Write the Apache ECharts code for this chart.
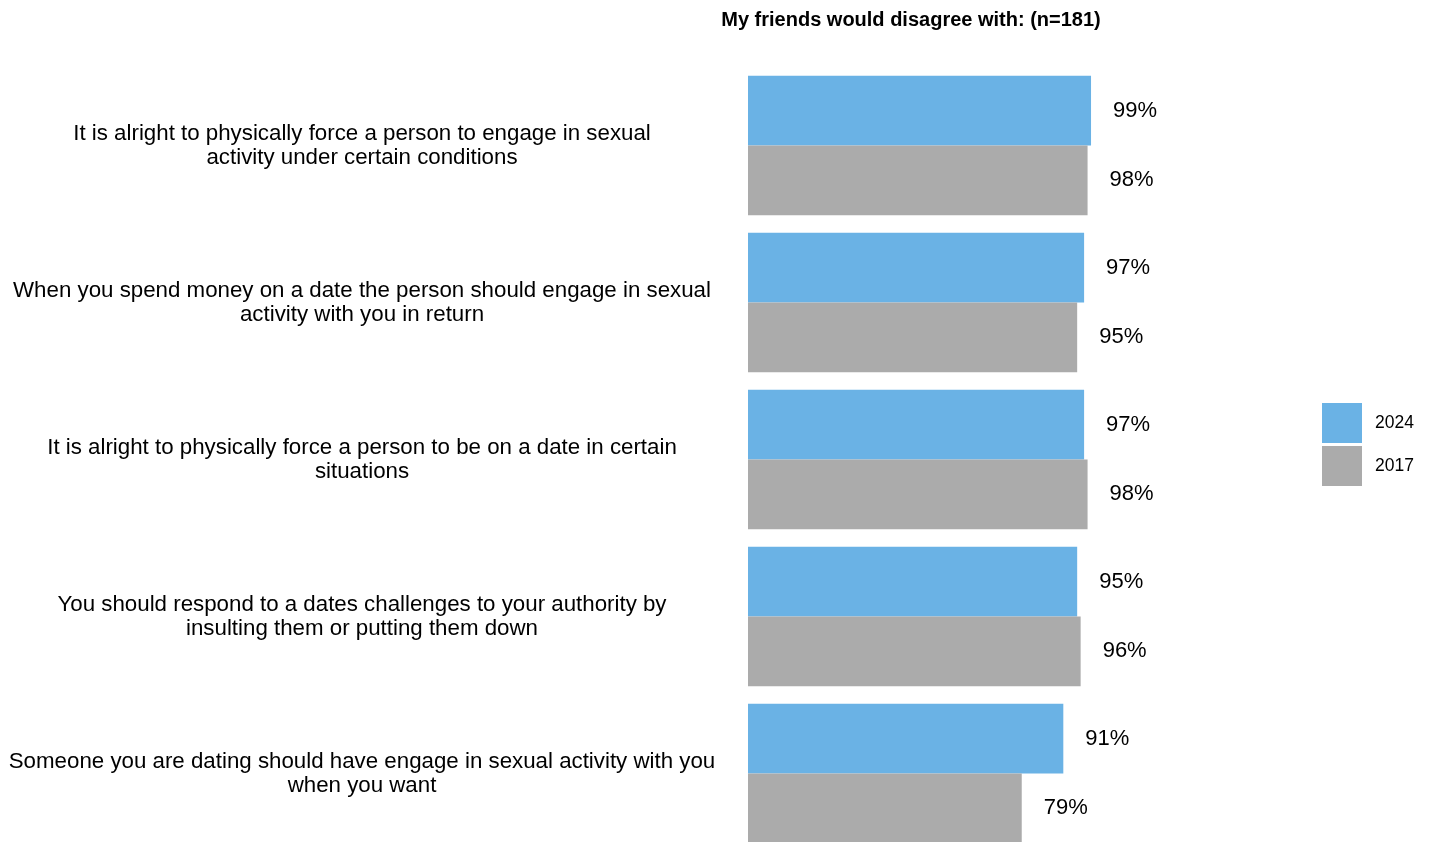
<!DOCTYPE html>
<html>
<head>
<meta charset="utf-8">
<script src="https://cdn.jsdelivr.net/npm/echarts@6/dist/echarts.min.js"></script>
<style>
  html, body { margin: 0; padding: 0; background: #ffffff; }
  #chart { width: 1431px; height: 842px; }
</style>
</head>
<body>
<div id="chart"></div>
<script>
// Statements, top to bottom (line breaks mark where each label wraps)
const statements = [
  'It is alright to physically force a person to engage in sexual\nactivity under certain conditions',
  'When you spend money on a date the person should engage in sexual\nactivity with you in return',
  'It is alright to physically force a person to be on a date in certain\nsituations',
  'You should respond to a dates challenges to your authority by\ninsulting them or putting them down',
  'Someone you are dating should have engage in sexual activity with you\nwhen you want'
];
// Share of respondents whose friends would disagree (%)
const values2024 = [99, 97, 97, 95, 91];
const values2017 = [98, 95, 98, 96, 79];
const seriesNames = ['2024', '2017'];

const FONT = '"Liberation Sans", Arial, sans-serif';

const chart = echarts.init(document.getElementById('chart'), null, { renderer: 'canvas' });

const barLabel = {
  show: true,
  position: 'right',
  distance: 22,
  formatter: p => p.value + '%',
  color: '#000000',
  fontFamily: FONT,
  fontSize: 22
};

chart.setOption({
  animation: false,
  backgroundColor: '#ffffff',
  title: {
    text: 'My friends would disagree with: (n=181)',
    left: 906,
    textAlign: 'center',
    top: 5,
    textStyle: { fontFamily: FONT, fontSize: 20, fontWeight: 'bold', color: '#000000' }
  },
  legend: {
    orient: 'vertical',
    left: 1322,
    top: 403,
    padding: 0,
    itemWidth: 40,
    itemHeight: 40,
    itemGap: 3,
    icon: 'rect',
    data: seriesNames,
    textStyle: { fontFamily: FONT, fontSize: 17.5, color: '#000000', padding: [0, 0, 0, 8] }
  },
  grid: { left: 748, top: 67, width: 346.5, height: 785, containLabel: false, outerBoundsMode: 'none' },
  xAxis: {
    type: 'value',
    min: 0,
    max: 100,
    show: false
  },
  yAxis: {
    type: 'category',
    inverse: true,
    data: statements,
    axisLine: { show: false },
    axisTick: { show: false },
    axisLabel: {
      margin: 386,
      align: 'center',
      fontFamily: FONT,
      fontSize: 22.3,
      lineHeight: 24,
      padding: [4, 0, 0, 0],
      color: '#000000'
    }
  },
  series: [
    {
      name: seriesNames[0],
      type: 'bar',
      data: values2024,
      barGap: '0%',
      barCategoryGap: '11%',
      itemStyle: { color: '#6AB2E5' },
      label: barLabel
    },
    {
      name: seriesNames[1],
      type: 'bar',
      data: values2017,
      barGap: '0%',
      barCategoryGap: '11%',
      itemStyle: { color: '#ABABAB' },
      label: barLabel
    }
  ]
});
</script>
</body>
</html>
